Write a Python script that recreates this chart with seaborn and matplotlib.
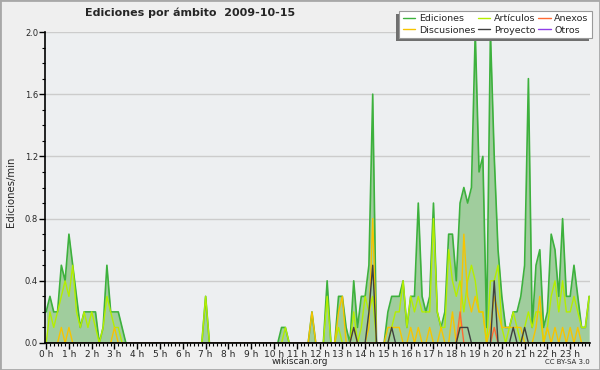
import numpy as np
import matplotlib
matplotlib.use('Agg')
import matplotlib.pyplot as plt
import seaborn as sns
from matplotlib.patches import Rectangle
from matplotlib.ticker import MultipleLocator

sns.set_theme(style='white')
plt.rcParams['font.family'] = ['DejaVu Sans']

# tramos de 10 minutos, 2009-10-15
minutos = np.arange(0, 1440, 10)
horas = minutos / 60

ediciones = [
    0.2, 0.3, 0.2, 0.2, 0.5, 0.4, 0.7, 0.5, 0.3, 0.1, 0.2, 0.2,
    0.2, 0.2, 0.0, 0.1, 0.5, 0.2, 0.2, 0.2, 0.1, 0.0, 0.0, 0.0,
    0.0, 0.0, 0.0, 0.0, 0.0, 0.0, 0.0, 0.0, 0.0, 0.0, 0.0, 0.0,
    0.0, 0.0, 0.0, 0.0, 0.0, 0.0, 0.3, 0.0, 0.0, 0.0, 0.0, 0.0,
    0.0, 0.0, 0.0, 0.0, 0.0, 0.0, 0.0, 0.0, 0.0, 0.0, 0.0, 0.0,
    0.0, 0.0, 0.1, 0.1, 0.0, 0.0, 0.0, 0.0, 0.0, 0.0, 0.2, 0.0,
    0.0, 0.0, 0.4, 0.0, 0.0, 0.3, 0.3, 0.1, 0.0, 0.4, 0.1, 0.3,
    0.3, 0.5, 1.6, 0.0, 0.0, 0.0, 0.2, 0.3, 0.3, 0.3, 0.4, 0.1,
    0.3, 0.3, 0.9, 0.3, 0.2, 0.3, 0.9, 0.2, 0.1, 0.2, 0.7, 0.7,
    0.4, 0.9, 1.0, 0.9, 1.0, 2.0, 1.1, 1.2, 0.1, 2.0, 1.2, 0.6,
    0.3, 0.1, 0.1, 0.2, 0.2, 0.3, 0.5, 1.7, 0.1, 0.5, 0.6, 0.1,
    0.2, 0.7, 0.6, 0.3, 0.8, 0.3, 0.3, 0.5, 0.3, 0.1, 0.1, 0.3,
]
articulos = [
    0.0, 0.2, 0.1, 0.2, 0.3, 0.4, 0.3, 0.5, 0.2, 0.1, 0.2, 0.1,
    0.2, 0.1, 0.0, 0.1, 0.3, 0.2, 0.1, 0.1, 0.0, 0.0, 0.0, 0.0,
    0.0, 0.0, 0.0, 0.0, 0.0, 0.0, 0.0, 0.0, 0.0, 0.0, 0.0, 0.0,
    0.0, 0.0, 0.0, 0.0, 0.0, 0.0, 0.3, 0.0, 0.0, 0.0, 0.0, 0.0,
    0.0, 0.0, 0.0, 0.0, 0.0, 0.0, 0.0, 0.0, 0.0, 0.0, 0.0, 0.0,
    0.0, 0.0, 0.0, 0.1, 0.0, 0.0, 0.0, 0.0, 0.0, 0.0, 0.0, 0.0,
    0.0, 0.0, 0.3, 0.0, 0.0, 0.1, 0.0, 0.0, 0.0, 0.2, 0.0, 0.1,
    0.3, 0.2, 0.3, 0.0, 0.0, 0.0, 0.0, 0.1, 0.2, 0.2, 0.4, 0.1,
    0.3, 0.2, 0.3, 0.2, 0.2, 0.2, 0.8, 0.2, 0.1, 0.1, 0.6, 0.4,
    0.3, 0.4, 0.2, 0.4, 0.5, 0.4, 0.2, 0.2, 0.0, 0.4, 0.4, 0.5,
    0.1, 0.0, 0.1, 0.2, 0.1, 0.0, 0.1, 0.2, 0.1, 0.2, 0.2, 0.0,
    0.1, 0.3, 0.4, 0.2, 0.4, 0.2, 0.2, 0.3, 0.2, 0.1, 0.1, 0.3,
]
discusiones = [
    0.0, 0.0, 0.0, 0.0, 0.1, 0.0, 0.1, 0.0, 0.0, 0.0, 0.0, 0.0,
    0.0, 0.0, 0.0, 0.0, 0.0, 0.0, 0.1, 0.0, 0.0, 0.0, 0.0, 0.0,
    0.0, 0.0, 0.0, 0.0, 0.0, 0.0, 0.0, 0.0, 0.0, 0.0, 0.0, 0.0,
    0.0, 0.0, 0.0, 0.0, 0.0, 0.0, 0.0, 0.0, 0.0, 0.0, 0.0, 0.0,
    0.0, 0.0, 0.0, 0.0, 0.0, 0.0, 0.0, 0.0, 0.0, 0.0, 0.0, 0.0,
    0.0, 0.0, 0.0, 0.0, 0.0, 0.0, 0.0, 0.0, 0.0, 0.0, 0.2, 0.0,
    0.0, 0.0, 0.0, 0.0, 0.0, 0.2, 0.3, 0.0, 0.0, 0.1, 0.0, 0.0,
    0.0, 0.1, 0.8, 0.0, 0.0, 0.0, 0.1, 0.1, 0.1, 0.1, 0.0, 0.0,
    0.1, 0.0, 0.1, 0.0, 0.0, 0.1, 0.0, 0.0, 0.1, 0.0, 0.0, 0.2,
    0.0, 0.1, 0.7, 0.3, 0.2, 0.3, 0.2, 0.2, 0.0, 0.1, 0.3, 0.2,
    0.1, 0.1, 0.1, 0.1, 0.1, 0.1, 0.0, 0.0, 0.0, 0.1, 0.3, 0.0,
    0.1, 0.0, 0.1, 0.0, 0.1, 0.0, 0.1, 0.0, 0.1, 0.0, 0.0, 0.0,
]
anexos = [
    0.0, 0.0, 0.0, 0.0, 0.0, 0.0, 0.0, 0.0, 0.0, 0.0, 0.0, 0.0,
    0.0, 0.0, 0.0, 0.0, 0.0, 0.0, 0.0, 0.0, 0.0, 0.0, 0.0, 0.0,
    0.0, 0.0, 0.0, 0.0, 0.0, 0.0, 0.0, 0.0, 0.0, 0.0, 0.0, 0.0,
    0.0, 0.0, 0.0, 0.0, 0.0, 0.0, 0.0, 0.0, 0.0, 0.0, 0.0, 0.0,
    0.0, 0.0, 0.0, 0.0, 0.0, 0.0, 0.0, 0.0, 0.0, 0.0, 0.0, 0.0,
    0.0, 0.0, 0.0, 0.0, 0.0, 0.0, 0.0, 0.0, 0.0, 0.0, 0.0, 0.0,
    0.0, 0.0, 0.0, 0.0, 0.0, 0.0, 0.0, 0.0, 0.0, 0.0, 0.0, 0.0,
    0.0, 0.0, 0.0, 0.0, 0.0, 0.0, 0.0, 0.0, 0.0, 0.0, 0.0, 0.0,
    0.0, 0.0, 0.0, 0.0, 0.0, 0.0, 0.0, 0.0, 0.0, 0.0, 0.0, 0.0,
    0.0, 0.2, 0.0, 0.0, 0.0, 0.0, 0.0, 0.0, 0.0, 0.0, 0.1, 0.0,
    0.0, 0.0, 0.0, 0.0, 0.0, 0.0, 0.0, 0.0, 0.0, 0.0, 0.0, 0.0,
    0.0, 0.0, 0.0, 0.0, 0.0, 0.0, 0.0, 0.0, 0.0, 0.0, 0.0, 0.0,
]
proyecto = [
    0.0, 0.0, 0.0, 0.0, 0.0, 0.0, 0.0, 0.0, 0.0, 0.0, 0.0, 0.0,
    0.0, 0.0, 0.0, 0.0, 0.0, 0.0, 0.0, 0.0, 0.0, 0.0, 0.0, 0.0,
    0.0, 0.0, 0.0, 0.0, 0.0, 0.0, 0.0, 0.0, 0.0, 0.0, 0.0, 0.0,
    0.0, 0.0, 0.0, 0.0, 0.0, 0.0, 0.0, 0.0, 0.0, 0.0, 0.0, 0.0,
    0.0, 0.0, 0.0, 0.0, 0.0, 0.0, 0.0, 0.0, 0.0, 0.0, 0.0, 0.0,
    0.0, 0.0, 0.0, 0.0, 0.0, 0.0, 0.0, 0.0, 0.0, 0.0, 0.0, 0.0,
    0.0, 0.0, 0.0, 0.0, 0.0, 0.0, 0.0, 0.0, 0.0, 0.1, 0.0, 0.0,
    0.0, 0.2, 0.5, 0.0, 0.0, 0.0, 0.0, 0.1, 0.0, 0.0, 0.0, 0.0,
    0.0, 0.0, 0.0, 0.0, 0.0, 0.0, 0.0, 0.0, 0.0, 0.0, 0.0, 0.0,
    0.0, 0.1, 0.1, 0.1, 0.0, 0.0, 0.0, 0.0, 0.0, 0.0, 0.4, 0.0,
    0.0, 0.0, 0.0, 0.1, 0.0, 0.0, 0.1, 0.0, 0.0, 0.0, 0.0, 0.0,
    0.0, 0.0, 0.0, 0.0, 0.0, 0.0, 0.0, 0.0, 0.0, 0.0, 0.0, 0.0,
]
otros = [0.0] * 144

etiquetas_horas = [f'{h} h' for h in range(24)]

fig = plt.figure(figsize=(6, 3.7), dpi=100, facecolor='#efefef')
ax = fig.add_axes([45 / 600, 1 - 343 / 370, 545 / 600, 311 / 370])
ax.set_facecolor('#edeff1')

ax.fill_between(horas, ediciones, color='#a0cd9d', lw=0, zorder=1)
sns.lineplot(x=horas, y=ediciones, color='#3db13d', lw=1.2, ax=ax, label='Ediciones', zorder=3)
sns.lineplot(x=horas, y=articulos, color='#b4ee00', lw=1.0, ax=ax, label='Artículos', zorder=3)
sns.lineplot(x=horas, y=discusiones, color='#f7c400', lw=1.0, ax=ax, label='Discusiones', zorder=3)
sns.lineplot(x=horas, y=anexos, color='#ff6a33', lw=1.0, ax=ax, label='Anexos', zorder=3)
sns.lineplot(x=horas, y=proyecto, color='#404040', lw=1.0, ax=ax, label='Proyecto', zorder=3)
sns.lineplot(x=horas, y=otros, color='#8f3fe8', lw=1.0, ax=ax, label='Otros', zorder=2)

ax.set_xlim(-0.05, 23.87)
ax.set_ylim(0, 2.0)
ax.set_xticks(range(24))
ax.set_xticklabels(etiquetas_horas)
ax.xaxis.set_minor_locator(MultipleLocator(1 / 6))
ax.set_yticks([0, 0.4, 0.8, 1.2, 1.6, 2.0])
ax.set_yticklabels(['0.0', '0.4', '0.8', '1.2', '1.6', '2.0'])
ax.yaxis.set_minor_locator(MultipleLocator(0.1))
ax.grid(axis='y', color='#cccccc', lw=1)
ax.set_axisbelow(True)
for s in ['top', 'right']:
    ax.spines[s].set_visible(False)
for s in ['left', 'bottom']:
    ax.spines[s].set_color('black')
    ax.spines[s].set_linewidth(1.2)
    ax.spines[s].set_zorder(5)
ax.tick_params(axis='both', which='major', direction='out', length=4, width=1,
               color='black', labelsize=6.5, pad=1, left=True, bottom=True)
ax.tick_params(axis='both', which='minor', direction='out', length=2.5, width=0.8,
               color='black', left=True, bottom=True)
ax.tick_params(axis='y', labelsize=6, pad=1)
ax.set_xlabel('')
ax.set_ylabel('')

handles, labels = ax.get_legend_handles_labels()
ax.get_legend().remove()
orden = ['Ediciones', 'Discusiones', 'Artículos', 'Proyecto', 'Anexos', 'Otros']
h_ord = [handles[labels.index(n)] for n in orden]
leg = fig.legend(h_ord, orden, loc='upper right', bbox_to_anchor=(592 / 600, 1 - 11 / 370),
                 ncol=3, fontsize=6.8, frameon=True, fancybox=False, framealpha=1,
                 facecolor='white', edgecolor='#9a9a9a', handlelength=1.3,
                 handletextpad=0.4, columnspacing=0.3, labelspacing=0.25,
                 borderpad=0.35, borderaxespad=0)
leg.get_frame().set_linewidth(0.8)
leg.set_zorder(5)
for lh in leg.get_lines():
    lh.set_linewidth(1.0)

# sombra del recuadro: rectangulo gris 3 px a la izquierda y 3 px abajo
fig.canvas.draw()
bb = leg.get_frame().get_window_extent().transformed(fig.transFigure.inverted())
fig.patches.append(Rectangle((bb.x0 - 3 / 600, bb.y0 - 3 / 370), bb.width, bb.height,
                             transform=fig.transFigure, facecolor='#6f6f6f',
                             edgecolor='none', zorder=4))

fig.text(85 / 600, 1 - 13 / 370, 'Ediciones por ámbito  2009-10-15', fontsize=8,
         fontweight='bold', va='center', ha='left')
fig.text(11 / 600, 1 - 192 / 370, 'Ediciones/min', rotation=90, fontsize=7.3,
         va='center', ha='center')
fig.text(300 / 600, 1 - 362 / 370, 'wikiscan.org', fontsize=6.5, ha='center', va='center')
fig.text(590 / 600, 1 - 362 / 370, 'CC BY-SA 3.0', fontsize=5, ha='right', va='center')
fig.patches.append(Rectangle((0, 0), 1, 1, transform=fig.transFigure, fill=False,
                             edgecolor='#a8a8a8', lw=2, zorder=0))

fig.savefig('out.png', dpi=100, facecolor=fig.get_facecolor())
